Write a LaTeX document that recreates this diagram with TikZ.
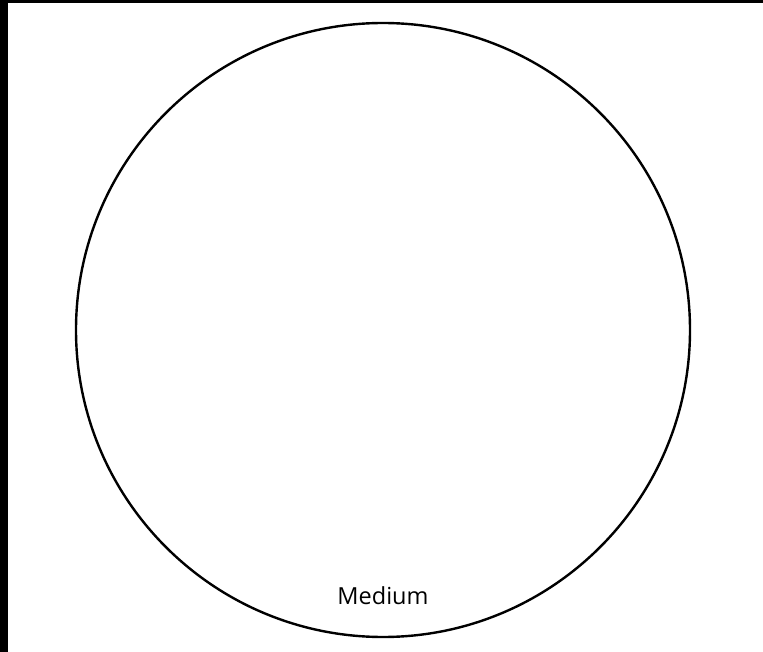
\documentclass[tikz,border=0pt]{standalone}
\usepackage{fontspec}
\setmainfont{Open Sans}
\tikzset{px/.style={x=1pt,y=-1pt,line width=2.4pt},
  dish/.style={draw,circle,inner sep=0pt,minimum size=614pt},
  lbl/.style={font=\fontsize{23.5}{26}\selectfont,inner sep=0pt}}

\begin{document}
\begin{tikzpicture}[px]
  \useasboundingbox (0,0) rectangle (763,652);
  \fill[black] (0,0) rectangle (8,652);\fill[black] (0,0) rectangle (763,3);
  \node[dish] (well) at (383,330){};
  \node[lbl,anchor=base] (med) at (383,604){Medium};
\end{tikzpicture}
\end{document}
